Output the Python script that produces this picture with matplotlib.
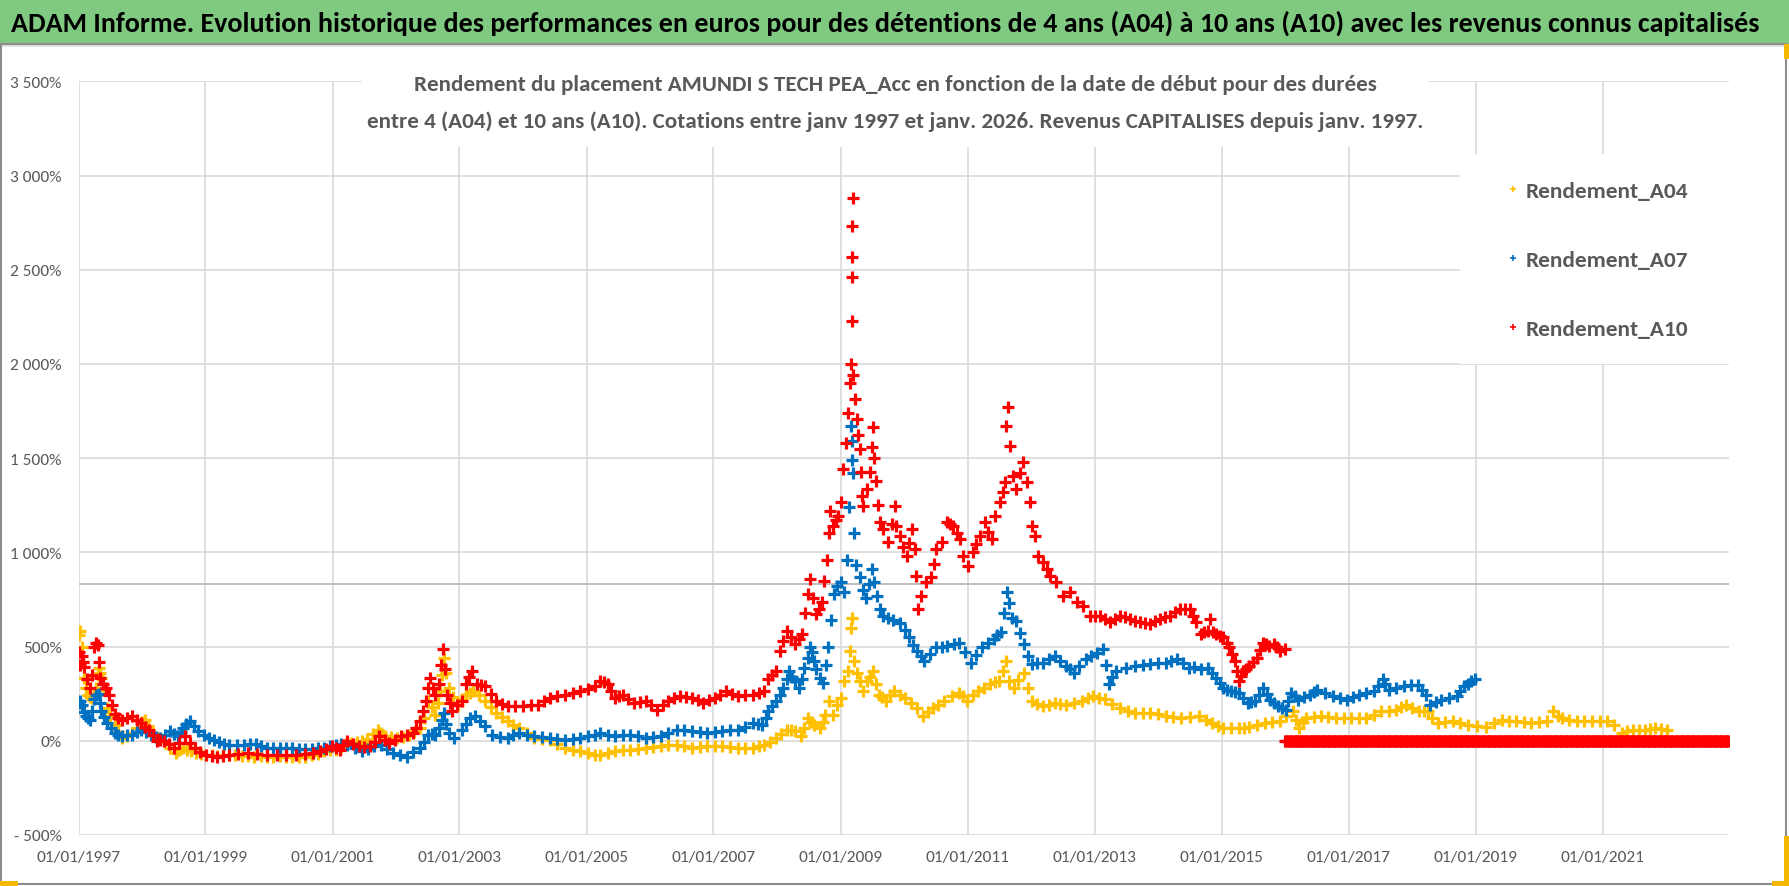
import datetime as dt
import matplotlib
matplotlib.use('Agg')
import matplotlib.pyplot as plt
from matplotlib import font_manager
from matplotlib.lines import Line2D
from matplotlib.patches import Rectangle
from matplotlib.ticker import FuncFormatter, MultipleLocator

# start dates (decimal years) and returns in %
a04_dates = [1997.01, 1997.03, 1997.05, 1997.07, 1997.09, 1997.12, 1997.15, 1997.18, 1997.21, 1997.24,
             1997.27, 1997.30, 1997.32, 1997.34, 1997.36, 1997.40, 1997.45, 1997.50, 1997.57, 1997.63,
             1997.69, 1997.76, 1997.84, 1997.92, 1998.00, 1998.05, 1998.10, 1998.17, 1998.25, 1998.35,
             1998.44, 1998.53, 1998.59, 1998.65, 1998.71, 1998.77, 1998.85, 1998.93, 1999.01, 1999.10,
             1999.19, 1999.28, 1999.37, 1999.47, 1999.57, 1999.67, 1999.77, 1999.87, 1999.97, 2000.07,
             2000.17, 2000.27, 2000.37, 2000.47, 2000.57, 2000.67, 2000.77, 2000.87, 2000.96, 2001.05,
             2001.13, 2001.21, 2001.29, 2001.38, 2001.47, 2001.55, 2001.63, 2001.71, 2001.77, 2001.83,
             2001.92, 2002.02, 2002.11, 2002.20, 2002.29, 2002.38, 2002.44, 2002.50, 2002.56, 2002.62,
             2002.66, 2002.70, 2002.73, 2002.75, 2002.78, 2002.83, 2002.90, 2002.98, 2003.04, 2003.10,
             2003.16, 2003.22, 2003.31, 2003.40, 2003.49, 2003.58, 2003.67, 2003.76, 2003.85, 2003.94,
             2004.06, 2004.18, 2004.30, 2004.42, 2004.54, 2004.66, 2004.78, 2004.90, 2005.02, 2005.14,
             2005.21, 2005.33, 2005.45, 2005.57, 2005.69, 2005.81, 2005.93, 2006.05, 2006.17, 2006.29,
             2006.42, 2006.54, 2006.66, 2006.78, 2006.90, 2007.02, 2007.14, 2007.26, 2007.38, 2007.50,
             2007.62, 2007.71, 2007.80, 2007.89, 2007.98, 2008.07, 2008.16, 2008.22, 2008.28, 2008.37,
             2008.43, 2008.49, 2008.54, 2008.58, 2008.67, 2008.72, 2008.76, 2008.82, 2008.88, 2008.94,
             2009.00, 2009.06, 2009.12, 2009.15, 2009.17, 2009.175, 2009.21, 2009.26, 2009.30, 2009.36,
             2009.42, 2009.47, 2009.51, 2009.56, 2009.60, 2009.66, 2009.72, 2009.78, 2009.84, 2009.93,
             2010.02, 2010.11, 2010.20, 2010.30, 2010.38, 2010.45, 2010.54, 2010.63, 2010.75, 2010.87,
             2010.93, 2010.99, 2011.08, 2011.17, 2011.26, 2011.35, 2011.43, 2011.50, 2011.56, 2011.60,
             2011.65, 2011.74, 2011.80, 2011.89, 2011.95, 2012.01, 2012.10, 2012.19, 2012.28, 2012.37,
             2012.46, 2012.55, 2012.67, 2012.80, 2012.89, 2012.98, 2013.07, 2013.16, 2013.28, 2013.40,
             2013.52, 2013.64, 2013.76, 2013.88, 2014.00, 2014.12, 2014.24, 2014.36, 2014.50, 2014.65,
             2014.75, 2014.85, 2014.94, 2015.03, 2015.15, 2015.27, 2015.36, 2015.44, 2015.56, 2015.68,
             2015.80, 2015.92, 2016.02, 2016.12, 2016.17, 2016.22, 2016.28, 2016.33, 2016.45, 2016.57,
             2016.68, 2016.80, 2016.92, 2017.04, 2017.16, 2017.28, 2017.40, 2017.51, 2017.63, 2017.75,
             2017.83, 2017.90, 2018.00, 2018.11, 2018.18, 2018.25, 2018.32, 2018.40, 2018.52, 2018.64,
             2018.76, 2018.88, 2019.02, 2019.17, 2019.29, 2019.41, 2019.52, 2019.64, 2019.76, 2019.88,
             2020.00, 2020.12, 2020.22, 2020.29, 2020.36, 2020.47, 2020.59, 2020.71, 2020.83, 2020.95,
             2021.07, 2021.18, 2021.30, 2021.39, 2021.48, 2021.57, 2021.66, 2021.75, 2021.83, 2021.92,
             2022.01]
a04_vals = [560, 584, 500, 420, 335, 280, 245, 230, 228, 250,
            281, 350, 388, 360, 335, 270, 174, 130, 85, 45,
            14, 25, 41, 70, 100, 112, 80, 41, 15, -4,
            -40, -66, -50, -39, -50, -57, -65, -72, -75, -78,
            -80, -77, -75, -78, -80, -82, -84, -83, -84, -85,
            -83, -84, -85, -84, -84, -78, -68, -57, -52, -48,
            -35, -20, -12, -8, -4, 10, 35, 59, 40, 23,
            18, 14, 22, 32, 45, 68, 120, 210, 180, 139,
            200, 263, 350, 441, 360, 281, 230, 192, 220, 245,
            255, 263, 240, 210, 180, 148, 125, 103, 85, 68,
            40, 14, 10, 5, -15, -39, -48, -57, -66, -75,
            -75, -66, -57, -52, -48, -44, -39, -35, -30, -25,
            -21, -30, -39, -34, -30, -30, -30, -35, -39, -39,
            -39, -30, -21, -5, 14, 35, 59, 55, 50, 23,
            70, 121, 100, 85, 68, 100, 139, 210, 139, 190,
            228, 317, 370, 477, 600, 653, 423, 360, 317, 263,
            317, 340, 370, 300, 245, 230, 210, 240, 263, 245,
            228, 200, 174, 130, 150, 174, 190, 210, 235, 254,
            235, 210, 240, 263, 280, 299, 310, 317, 370, 423,
            317, 281, 320, 361, 280, 210, 195, 183, 192, 201,
            196, 192, 200, 210, 225, 237, 228, 219, 195, 174,
            160, 148, 148, 148, 140, 130, 125, 121, 125, 129,
            110, 93, 80, 66, 66, 66, 70, 75, 84, 93,
            98, 102, 130, 155, 110, 66, 100, 120, 125, 129,
            124, 120, 120, 120, 120, 120, 138, 155, 160, 164,
            178, 191, 172, 155, 155, 155, 120, 93, 98, 102,
            93, 84, 80, 75, 95, 111, 106, 102, 98, 93,
            98, 102, 155, 130, 120, 110, 102, 102, 102, 102,
            102, 84, 39, 50, 57, 57, 57, 62, 66, 60,
            57]

a07_dates = [1997.01, 1997.03, 1997.05, 1997.08, 1997.12, 1997.15, 1997.18, 1997.22, 1997.25, 1997.28,
             1997.32, 1997.34, 1997.36, 1997.40, 1997.45, 1997.51, 1997.57, 1997.63, 1997.69, 1997.76,
             1997.84, 1997.92, 1997.99, 1998.06, 1998.14, 1998.22, 1998.29, 1998.37, 1998.44, 1998.50,
             1998.56, 1998.61, 1998.65, 1998.70, 1998.75, 1998.82, 1998.89, 1998.97, 1999.05, 1999.13,
             1999.21, 1999.29, 1999.37, 1999.49, 1999.61, 1999.70, 1999.79, 1999.88, 1999.97, 2000.07,
             2000.17, 2000.27, 2000.37, 2000.47, 2000.57, 2000.67, 2000.77, 2000.87, 2000.96, 2001.05,
             2001.14, 2001.23, 2001.35, 2001.47, 2001.56, 2001.65, 2001.77, 2001.86, 2001.95, 2002.06,
             2002.17, 2002.27, 2002.38, 2002.44, 2002.50, 2002.56, 2002.62, 2002.68, 2002.72, 2002.75,
             2002.79, 2002.83, 2002.92, 2003.04, 2003.10, 2003.16, 2003.25, 2003.32, 2003.40, 2003.52,
             2003.64, 2003.76, 2003.85, 2003.94, 2004.06, 2004.18, 2004.30, 2004.42, 2004.54, 2004.66,
             2004.78, 2004.90, 2005.02, 2005.14, 2005.21, 2005.33, 2005.45, 2005.57, 2005.69, 2005.81,
             2005.93, 2006.05, 2006.17, 2006.29, 2006.42, 2006.54, 2006.66, 2006.78, 2006.90, 2007.02,
             2007.14, 2007.26, 2007.38, 2007.50, 2007.62, 2007.70, 2007.77, 2007.82, 2007.86, 2007.92,
             2007.98, 2008.04, 2008.10, 2008.15, 2008.19, 2008.24, 2008.28, 2008.34, 2008.39, 2008.43,
             2008.48, 2008.52, 2008.55, 2008.58, 2008.62, 2008.67, 2008.73, 2008.77, 2008.80, 2008.85,
             2008.90, 2008.95, 2009.00, 2009.05, 2009.10, 2009.14, 2009.17, 2009.175, 2009.18, 2009.19,
             2009.21, 2009.25, 2009.30, 2009.35, 2009.40, 2009.45, 2009.49, 2009.53, 2009.57, 2009.62,
             2009.67, 2009.75, 2009.83, 2009.93, 2010.02, 2010.08, 2010.14, 2010.20, 2010.26, 2010.32,
             2010.41, 2010.50, 2010.59, 2010.68, 2010.78, 2010.87, 2010.96, 2011.05, 2011.14, 2011.23,
             2011.32, 2011.41, 2011.47, 2011.53, 2011.58, 2011.62, 2011.66, 2011.70, 2011.77, 2011.83,
             2011.89, 2011.95, 2012.01, 2012.10, 2012.19, 2012.28, 2012.37, 2012.46, 2012.55, 2012.61,
             2012.67, 2012.76, 2012.86, 2012.95, 2013.04, 2013.13, 2013.18, 2013.22, 2013.28, 2013.34,
             2013.49, 2013.64, 2013.76, 2013.88, 2014.00, 2014.12, 2014.21, 2014.30, 2014.39, 2014.48,
             2014.57, 2014.67, 2014.79, 2014.85, 2014.91, 2014.97, 2015.03, 2015.09, 2015.15, 2015.21,
             2015.27, 2015.34, 2015.41, 2015.47, 2015.53, 2015.59, 2015.65, 2015.71, 2015.77, 2015.83,
             2015.89, 2015.95, 2016.01, 2016.05, 2016.09, 2016.15, 2016.21, 2016.30, 2016.39, 2016.45,
             2016.51, 2016.63, 2016.75, 2016.87, 2016.98, 2017.07, 2017.16, 2017.28, 2017.40, 2017.47,
             2017.54, 2017.58, 2017.63, 2017.75, 2017.87, 2017.98, 2018.10, 2018.16, 2018.22, 2018.28,
             2018.37, 2018.46, 2018.58, 2018.70, 2018.76, 2018.82, 2018.88, 2018.93, 2018.99]
a07_vals = [200, 210, 190, 150, 130, 118, 112, 160, 220, 245,
            250, 200, 157, 125, 94, 65, 41, 30, 23, 28,
            32, 45, 59, 45, 32, 20, 14, 30, 50, 35,
            23, 45, 68, 90, 107, 80, 50, 30, 15, 5,
            -5, -15, -21, -25, -21, -20, -18, -30, -39, -40,
            -38, -39, -41, -42, -43, -42, -40, -39, -30, -21,
            -18, -21, -40, -57, -45, -30, -21, -45, -66, -75,
            -84, -60, -39, -5, 32, 35, 32, 68, 110, 148,
            90, 41, 14, 59, 90, 121, 130, 105, 77, 32,
            20, 14, 28, 41, 30, 23, 18, 14, 10, 5,
            10, 14, 23, 32, 41, 32, 23, 28, 32, 23,
            14, 18, 23, 40, 59, 55, 50, 45, 41, 45,
            50, 55, 59, 75, 94, 90, 85, 120, 157, 185,
            210, 245, 281, 330, 370, 340, 317, 281, 330, 388,
            440, 495, 470, 423, 380, 335, 308, 400, 500, 640,
            780, 820, 840, 790, 960, 1240, 1670, 1590, 1490, 1420,
            1100, 930, 870, 800, 760, 830, 910, 840, 770, 700,
            660, 650, 640, 625, 590, 548, 510, 477, 450, 423,
            460, 495, 500, 504, 512, 521, 470, 415, 455, 495,
            520, 539, 560, 575, 680, 790, 730, 650, 637, 570,
            512, 450, 406, 410, 415, 432, 450, 425, 397, 380,
            361, 395, 432, 450, 468, 486, 400, 300, 340, 370,
            385, 397, 400, 406, 410, 415, 425, 432, 410, 388,
            392, 379, 387, 360, 334, 305, 280, 270, 262, 258,
            254, 225, 200, 205, 209, 245, 280, 250, 218, 200,
            182, 173, 164, 210, 254, 235, 218, 232, 245, 258,
            271, 255, 236, 228, 218, 232, 245, 253, 262, 290,
            325, 300, 271, 280, 289, 294, 298, 270, 245, 191,
            205, 218, 227, 236, 262, 289, 303, 316, 330]

a10_dates = [1997.01, 1997.03, 1997.05, 1997.07, 1997.09, 1997.13, 1997.18, 1997.21, 1997.24, 1997.27,
             1997.30, 1997.32, 1997.34, 1997.39, 1997.43, 1997.48, 1997.52, 1997.57, 1997.63, 1997.69,
             1997.76, 1997.84, 1997.92, 1997.99, 1998.05, 1998.11, 1998.17, 1998.23, 1998.29, 1998.35,
             1998.42, 1998.50, 1998.59, 1998.68, 1998.75, 1998.83, 1998.92, 1999.01, 1999.10, 1999.19,
             1999.28, 1999.37, 1999.52, 1999.67, 1999.82, 1999.97, 2000.12, 2000.27, 2000.42, 2000.57,
             2000.69, 2000.81, 2000.90, 2000.99, 2001.05, 2001.11, 2001.17, 2001.23, 2001.32, 2001.41,
             2001.50, 2001.59, 2001.67, 2001.74, 2001.82, 2001.89, 2001.98, 2002.08, 2002.17, 2002.26,
             2002.32, 2002.38, 2002.43, 2002.47, 2002.50, 2002.53, 2002.58, 2002.62, 2002.68, 2002.71,
             2002.74, 2002.77, 2002.80, 2002.85, 2002.89, 2002.96, 2003.04, 2003.10, 2003.15, 2003.19,
             2003.28, 2003.34, 2003.40, 2003.49, 2003.58, 2003.67, 2003.76, 2003.88, 2004.00, 2004.12,
             2004.24, 2004.33, 2004.42, 2004.54, 2004.66, 2004.78, 2004.90, 2005.02, 2005.14, 2005.21,
             2005.27, 2005.33, 2005.39, 2005.45, 2005.51, 2005.57, 2005.66, 2005.75, 2005.84, 2005.93,
             2006.02, 2006.11, 2006.20, 2006.29, 2006.38, 2006.48, 2006.57, 2006.66, 2006.75, 2006.84,
             2006.93, 2007.02, 2007.11, 2007.20, 2007.29, 2007.38, 2007.50, 2007.62, 2007.71, 2007.80,
             2007.86, 2007.92, 2007.98, 2008.04, 2008.10, 2008.16, 2008.22, 2008.28, 2008.34, 2008.40,
             2008.44, 2008.48, 2008.52, 2008.57, 2008.62, 2008.66, 2008.70, 2008.74, 2008.78, 2008.82,
             2008.84, 2008.88, 2008.92, 2008.96, 2009.00, 2009.04, 2009.09, 2009.12, 2009.15, 2009.17,
             2009.18, 2009.182, 2009.184, 2009.186, 2009.188, 2009.20, 2009.23, 2009.26, 2009.28, 2009.30,
             2009.32, 2009.34, 2009.36, 2009.41, 2009.46, 2009.49, 2009.51, 2009.53, 2009.56, 2009.59,
             2009.62, 2009.67, 2009.75, 2009.81, 2009.86, 2009.88, 2009.93, 2009.99, 2010.04, 2010.08,
             2010.12, 2010.17, 2010.19, 2010.22, 2010.27, 2010.35, 2010.43, 2010.47, 2010.51, 2010.59,
             2010.67, 2010.72, 2010.77, 2010.83, 2010.88, 2010.93, 2011.01, 2011.09, 2011.14, 2011.19,
             2011.27, 2011.33, 2011.38, 2011.43, 2011.51, 2011.56, 2011.59, 2011.61, 2011.64, 2011.67,
             2011.72, 2011.77, 2011.83, 2011.88, 2011.93, 2011.98, 2012.01, 2012.06, 2012.11, 2012.19,
             2012.25, 2012.30, 2012.40, 2012.51, 2012.61, 2012.72, 2012.82, 2012.93, 2013.00, 2013.08,
             2013.16, 2013.24, 2013.32, 2013.40, 2013.48, 2013.56, 2013.64, 2013.71, 2013.79, 2013.87,
             2013.95, 2014.03, 2014.11, 2014.19, 2014.27, 2014.34, 2014.42, 2014.50, 2014.55, 2014.60,
             2014.67, 2014.73, 2014.79, 2014.82, 2014.86, 2014.91, 2014.97, 2015.03, 2015.08, 2015.12,
             2015.17, 2015.21, 2015.24, 2015.27, 2015.30, 2015.33, 2015.39, 2015.44, 2015.50, 2015.56,
             2015.61, 2015.65, 2015.70, 2015.74, 2015.83, 2015.88, 2015.92, 2016.00]
a10_vals = [470, 400, 450, 420, 390, 330, 280, 350, 495, 520,
            510, 420, 335, 300, 280, 245, 190, 140, 120, 112,
            120, 130, 110, 94, 75, 59, 30, 0, 5, 0,
            -20, -39, -10, 23, -10, -39, -60, -75, -80, -84,
            -80, -75, -70, -66, -72, -75, -76, -75, -74, -71,
            -65, -57, -45, -30, -40, -48, -25, -4, -15, -30,
            -32, -30, -5, 23, 5, -12, 5, 23, 30, 41,
            70, 103, 160, 210, 280, 335, 280, 245, 300, 400,
            486, 380, 245, 200, 157, 190, 210, 300, 340, 370,
            300, 295, 290, 250, 210, 195, 183, 183, 183, 188,
            192, 210, 228, 236, 245, 254, 263, 277, 290, 317,
            310, 300, 264, 228, 236, 245, 223, 201, 205, 210,
            188, 165, 188, 210, 224, 237, 233, 228, 215, 201,
            215, 228, 245, 263, 250, 237, 241, 245, 254, 263,
            326, 350, 370, 477, 530, 584, 548, 512, 540, 566,
            680, 780, 858, 760, 670, 700, 735, 850, 960, 1100,
            1220, 1140, 1170, 1194, 1265, 1440, 1580, 1740, 1900, 2000,
            2226, 2459, 2565, 2733, 2880, 1940, 1813, 1707, 1620, 1550,
            1424, 1300, 1248, 1336, 1424, 1560, 1663, 1500, 1380, 1250,
            1159, 1123, 1053, 1150, 1248, 1141, 1088, 1030, 982, 1050,
            1123, 1017, 876, 700, 770, 840, 867, 940, 1017, 1053,
            1159, 1150, 1141, 1100, 1070, 982, 929, 1000, 1045, 1088,
            1159, 1110, 1070, 1194, 1265, 1320, 1372, 1672, 1770, 1566,
            1407, 1336, 1420, 1478, 1372, 1265, 1141, 1088, 982, 946,
            910, 876, 840, 770, 787, 735, 717, 664, 660, 664,
            645, 628, 645, 664, 655, 646, 637, 628, 624, 620,
            633, 646, 655, 664, 682, 700, 700, 700, 660, 628,
            566, 575, 584, 646, 575, 566, 557, 548, 520, 495,
            460, 423, 370, 316, 345, 370, 383, 396, 420, 441,
            480, 521, 512, 504, 512, 495, 477, 486]
# after janv. 2016 no 10 year result yet: value shown is 0
a10_zero_from = 2016.0
a10_zero_to = 2023.0
a10_zero_val = 0

seuil = 830  # horizontal grey reference line

tick_years = list(range(1997, 2023, 2))
labels = ['Rendement_A04', 'Rendement_A07', 'Rendement_A10']
colors = ['#FFC000', '#0070C0', '#FF0000']

titre = ("ADAM Informe. Evolution historique des performances en euros pour des détentions "
         "de 4 ans (A04) à 10 ans (A10) avec les revenus connus capitalisés")
sous_titre_1 = ("Rendement du placement AMUNDI S TECH PEA_Acc en fonction de la date "
                "de début pour des durées")
sous_titre_2 = ("entre 4 (A04) et 10 ans (A10). Cotations entre janv 1997 et janv. 2026. "
                "Revenus CAPITALISES depuis janv. 1997.")

GREY = '#595959'
W, H = 1790, 887

# pick a narrow sans font close to Calibri when one is installed
installed = {f.name for f in font_manager.fontManager.ttflist}
main_font = 'DejaVu Sans'
for cand in ['Carlito', 'Liberation Sans Narrow', 'Roboto Condensed', 'Open Sans Condensed',
             'Arial Narrow', 'Lato', 'Open Sans']:
    if cand in installed:
        main_font = cand
        break
FONT = [main_font, 'DejaVu Sans']
plt.rcParams['font.family'] = FONT


def to_date(y):
    year = int(y)
    start = dt.datetime(year, 1, 1)
    ndays = (dt.datetime(year + 1, 1, 1) - start).days
    return start + dt.timedelta(days=(y - year) * ndays)


def pct(v, pos):
    s = format(int(round(abs(v))), ',').replace(',', ' ') + '%'
    return '- ' + s if v < 0 else s


fig = plt.figure(figsize=(W / 100, H / 100), dpi=100)
renderer = fig.canvas.get_renderer()


def fit_size(s, target_px, weight='normal', base=20.0):
    # font size (pt) giving a text of the wanted width in pixels
    t = fig.text(0, 0, s, fontsize=base, fontweight=weight)
    w = t.get_window_extent(renderer=renderer).width
    t.remove()
    return base * target_px / w


fs_title = fit_size(titre, 1747, 'bold')
fs_sub = fit_size(sous_titre_2, 1052, 'bold')
fs_tick = fit_size('01/01/1997', 84, 'normal')
fs_leg = fit_size('Rendement_A04', 163, 'bold')

# axes box in pixels: left 78.5, right 1729, top 82.3, bottom 835.9
ax = fig.add_axes([78.5 / W, (H - 835.9) / H, (1729 - 78.5) / W, (835.9 - 82.3) / H])

series = [(a04_dates, a04_vals), (a07_dates, a07_vals), (a10_dates, a10_vals)]
for (xs, ys), c in zip(series, colors):
    ax.plot([to_date(x) for x in xs], ys, ls='none', marker='+', ms=8, mew=2.3,
            color=c, zorder=3)

# zero band of the 10 year series (one point per week)
nz = int((a10_zero_to - a10_zero_from) * 52)
zx = [to_date(a10_zero_from + i / 52) for i in range(nz)]
ax.plot(zx, [a10_zero_val] * nz, ls='none', marker='+', ms=8, mew=2.3,
        color=colors[2], zorder=3)

ax.axhline(seuil, color='#BFBFBF', lw=1.4, zorder=2)

ax.set_ylim(-500, 3500)
ax.set_xlim(to_date(1997.0), to_date(2022.99))
ax.yaxis.set_major_locator(MultipleLocator(500))
ax.yaxis.set_major_formatter(FuncFormatter(pct))
ax.set_xticks([to_date(y) for y in tick_years])
ax.set_xticklabels(['01/01/%d' % y for y in tick_years])
ax.grid(True, color='#D9D9D9', lw=1.2, zorder=1)
ax.set_axisbelow(True)
for sp in ax.spines.values():
    sp.set_visible(False)
ax.tick_params(length=0, labelcolor=GREY, labelsize=fs_tick)
ax.tick_params(axis='y', pad=12)
ax.tick_params(axis='x', pad=11)

# title band
fig.patches.append(Rectangle((0, 1 - 45 / H), 1, 45 / H, transform=fig.transFigure,
                             facecolor='#80C980', edgecolor='none', zorder=0))
fig.patches.append(Rectangle((0, 1 - 48 / H), 1, 3 / H, transform=fig.transFigure,
                             facecolor='#E3E3E3', edgecolor='none', zorder=0))
fig.text(885 / W, 1 - 23 / H, titre, ha='center', va='center', fontsize=fs_title,
         fontweight='bold', color='black')

# subtitle over a white patch hiding the grid
fig.patches.append(Rectangle((362 / W, 1 - 148 / H), (1428 - 362) / W, (148 - 66) / H,
                             transform=fig.transFigure, facecolor='white',
                             edgecolor='none', zorder=4))
fig.text(895 / W, 1 - 85 / H, sous_titre_1, ha='center', va='center', fontsize=fs_sub,
         fontweight='bold', color=GREY, zorder=6)
fig.text(895 / W, 1 - 122 / H, sous_titre_2, ha='center', va='center', fontsize=fs_sub,
         fontweight='bold', color=GREY, zorder=6)

# legend over a white patch
fig.patches.append(Rectangle((1460 / W, 1 - 365 / H), (1729 - 1460) / W, (365 - 155) / H,
                             transform=fig.transFigure, facecolor='white',
                             edgecolor='none', zorder=4))
px_leg = fs_leg * 100 / 72
handles = [Line2D([], [], ls='none', marker='+', ms=5, mew=1.2, color=c) for c in colors]
fig.legend(handles, labels, loc='upper left',
           bbox_to_anchor=((1513 - 0.25 * px_leg) / W, 1 - 182 / H),
           frameon=False, borderpad=0, borderaxespad=0, handlelength=0.5,
           handletextpad=(13 - 0.25 * px_leg) / px_leg,
           labelspacing=(71 - 0.97 * px_leg) / px_leg,
           prop=dict(family=FONT, size=fs_leg, weight='bold'), labelcolor=GREY)

# chart border and selection handles
fig.patches.append(Rectangle((1.5 / W, 2 / H), (1786 - 1.5) / W, (H - 47) / H,
                             transform=fig.transFigure, facecolor='none',
                             edgecolor='#8C8C8C', lw=1.5, zorder=5))
for (x0, y0, w, h) in [(0, 0, 18, 5), (1772, 0, 18, 5), (1784, 0, 6, 50)]:
    fig.patches.append(Rectangle((x0 / W, y0 / H), w / W, h / H,
                                 transform=fig.transFigure, facecolor='#F5B800',
                                 edgecolor='none', zorder=6))
fig.patches.append(Rectangle((1784 / W, 1 - 60 / H), 6 / W, 15 / H,
                             transform=fig.transFigure, facecolor='#F5B800',
                             edgecolor='none', zorder=6))

fig.savefig('out.png', dpi=100)
